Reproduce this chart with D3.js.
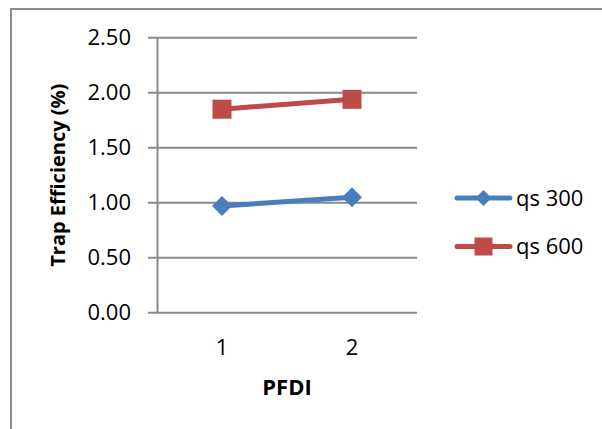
<!DOCTYPE html>
<html>
<head>
<meta charset="utf-8">
<script src="https://cdn.jsdelivr.net/npm/d3@7"></script>
<style>
  html, body { margin: 0; padding: 0; background: #fff; }
  svg { display: block; font-family: "Open Sans", sans-serif; }
</style>
</head>
<body>
<script>
// PFDI categories and trap efficiency per sediment discharge
const categories = ["1", "2"];
const qs300 = [0.97, 1.05];
const qs600 = [1.85, 1.94];
const yTicks = [0, 0.5, 1.0, 1.5, 2.0, 2.5];

const series = [
  { name: "qs 300", values: qs300, color: "#4a7ebb", marker: "diamond" },
  { name: "qs 600", values: qs600, color: "#be4b48", marker: "square" }
];

const W = 602, H = 429;
const plot = { left: 157, right: 417, top: 37.7, bottom: 312.7 };

const svg = d3.select("body").append("svg").attr("width", W).attr("height", H);

// chart frame
svg.append("rect")
  .attr("x", 11).attr("y", 9).attr("width", 700).attr("height", 500)
  .attr("fill", "none").attr("stroke", "#8c8c8c").attr("stroke-width", 2);

const x = d3.scaleBand().domain(categories).range([plot.left, plot.right]);
const y = d3.scaleLinear().domain([0, 2.5]).range([plot.bottom, plot.top]);

// horizontal gridlines
svg.append("g").selectAll("line").data(yTicks).join("line")
  .attr("x1", plot.left - 9).attr("x2", plot.right)
  .attr("y1", d => y(d)).attr("y2", d => y(d))
  .attr("stroke", "#8a8a8a").attr("stroke-width", 2);

// y axis
const yAxis = svg.append("g")
  .attr("transform", `translate(${plot.left},0)`)
  .call(d3.axisLeft(y).tickValues(yTicks).tickFormat(d3.format(".2f")).tickSize(0).tickPadding(26));
yAxis.select(".domain").attr("stroke", "#8a8a8a").attr("stroke-width", 2);
yAxis.selectAll("text").attr("font-size", 22).attr("fill", "#000")
  .attr("font-family", "'Open Sans', sans-serif");

// x axis
const xAxis = svg.append("g")
  .attr("transform", `translate(0,${plot.bottom})`)
  .call(d3.axisBottom(x).tickSize(0).tickPadding(27));
xAxis.select(".domain").remove();
xAxis.selectAll("text").attr("font-size", 22).attr("fill", "#000")
  .attr("font-family", "'Open Sans', sans-serif");

// axis titles
svg.append("text")
  .attr("x", (plot.left + plot.right) / 2).attr("y", 395)
  .attr("text-anchor", "middle").attr("font-size", 22).attr("font-weight", "bold")
  .text("PFDI");

svg.append("text")
  .attr("transform", `translate(65,${(plot.top + plot.bottom) / 2}) rotate(-90)`)
  .attr("text-anchor", "middle").attr("font-size", 20).attr("font-weight", "bold")
  .text("Trap Efficiency (%)");

const line = d3.line()
  .x((d, i) => x(categories[i]) + x.bandwidth() / 2)
  .y(d => y(d));

function drawMarker(g, type, cx, cy, size, color) {
  if (type === "square") {
    g.append("rect").attr("x", cx - size / 2).attr("y", cy - size / 2)
      .attr("width", size).attr("height", size).attr("fill", color);
  } else {
    const r = size / 2;
    g.append("path")
      .attr("d", `M${cx},${cy - r}L${cx + r},${cy}L${cx},${cy + r}L${cx - r},${cy}Z`)
      .attr("fill", color);
  }
}

series.forEach(s => {
  const g = svg.append("g");
  g.append("path").datum(s.values)
    .attr("d", line).attr("fill", "none")
    .attr("stroke", s.color).attr("stroke-width", 5).attr("stroke-linecap", "round");
  s.values.forEach((v, i) => {
    drawMarker(g, s.marker, x(categories[i]) + x.bandwidth() / 2, y(v),
      s.marker === "square" ? 19 : 20, s.color);
  });
});

// legend
const legendY = [198, 246.5];
series.forEach((s, i) => {
  const g = svg.append("g");
  const ly = legendY[i];
  g.append("line").attr("x1", 457).attr("x2", 510).attr("y1", ly).attr("y2", ly)
    .attr("stroke", s.color).attr("stroke-width", 5).attr("stroke-linecap", "round");
  drawMarker(g, s.marker, 483.5, ly, s.marker === "square" ? 18 : 16, s.color);
  g.append("text").attr("x", 516).attr("y", ly).attr("dy", "0.35em")
    .attr("font-size", 22).attr("fill", "#000").text(s.name);
});
</script>
</body>
</html>
